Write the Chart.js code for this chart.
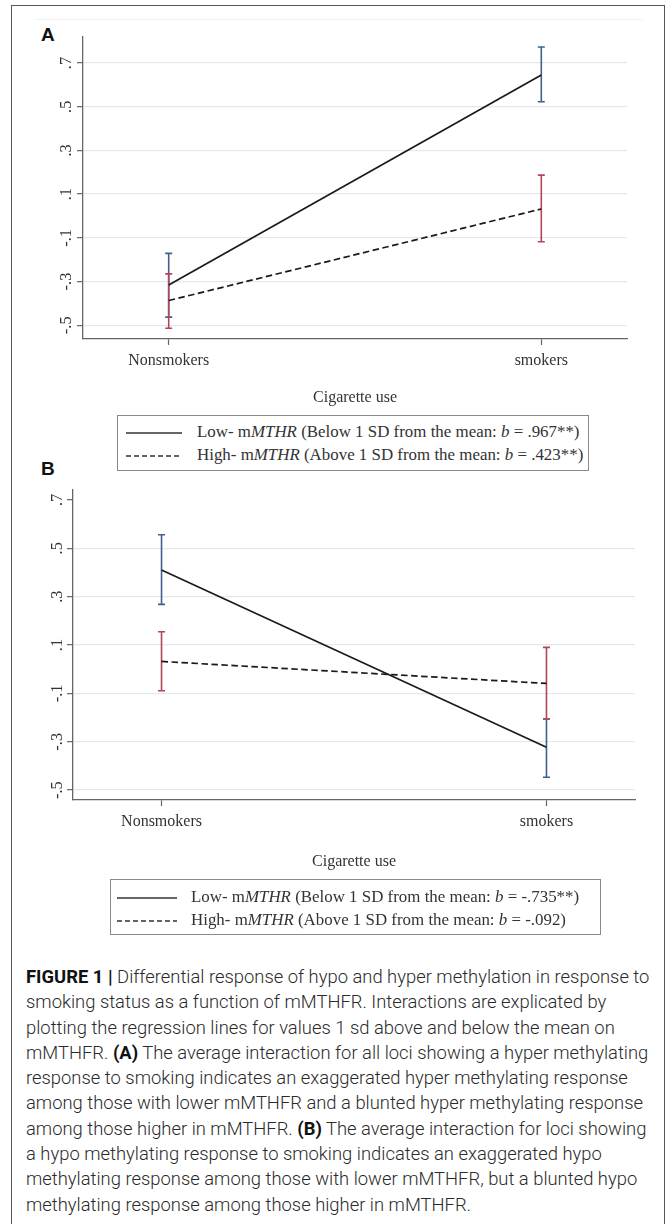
<!DOCTYPE html>
<html>
<head>
<meta charset="utf-8">
<script src="https://cdn.jsdelivr.net/npm/chart.js@4.4.1/dist/chart.umd.min.js"></script>
<style>
  body { margin: 0; background: #fff; width: 667px; height: 1224px; overflow: hidden; position: relative; }
  .frame { position: absolute; left: 11px; top: 5px; width: 652px; height: 1240px; border: 1.5px solid #555; }
  .topline { position: absolute; left: 36px; top: 19px; width: 607px; height: 1px; background: #f0f0f0; }
  .panel { position: absolute; left: 41px; font: bold 19px "Liberation Sans", Arial, sans-serif; line-height: 1; color: #111; }
  canvas { position: absolute; left: 0; }
  .legend { position: absolute; border: 1px solid #8a8a8a; font: 16.9px "Liberation Serif", "Times New Roman", serif; color: #333; }
  .legend .row { position: absolute; white-space: nowrap; line-height: 20px; }
  .legend svg { position: absolute; }
  .caption { position: absolute; left: 26px; top: 964px; font: 300 18.4px Roboto, "Liberation Sans", sans-serif; line-height: 25.3px; color: #2a2a2a; white-space: nowrap; }
  .caption b { font-weight: bold; color: #111; }
</style>
</head>
<body>
<div class="frame"></div>
<div class="topline"></div>

<div class="panel" style="top:25px">A</div>
<canvas id="chartA" width="667" height="410" style="top:0"></canvas>
<div class="legend" style="left:117px; top:415px; width:470px; height:54px">
  <svg style="left:8px; top:15px" width="58" height="4"><line x1="0" y1="2" x2="56" y2="2" stroke="#333" stroke-width="1.6"/></svg>
  <div class="row" style="left:79px; top:6px">Low- m<i>MTHR</i> (Below 1 SD from the mean: <i>b</i> = .967**)</div>
  <svg style="left:8px; top:38px" width="58" height="4"><line x1="0" y1="2" x2="56" y2="2" stroke="#333" stroke-width="1.6" stroke-dasharray="5,3"/></svg>
  <div class="row" style="left:79px; top:29px">High- m<i>MTHR</i> (Above 1 SD from the mean: <i>b</i> = .423**)</div>
</div>

<div class="panel" style="top:459px">B</div>
<canvas id="chartB" width="667" height="420" style="top:460px"></canvas>
<div class="legend" style="left:110px; top:879px; width:489px; height:54px">
  <svg style="left:6px; top:16px" width="62" height="4"><line x1="0" y1="2" x2="60" y2="2" stroke="#333" stroke-width="1.6"/></svg>
  <div class="row" style="left:80px; top:7px">Low- m<i>MTHR</i> (Below 1 SD from the mean: <i>b</i> = -.735**)</div>
  <svg style="left:6px; top:39px" width="62" height="4"><line x1="0" y1="2" x2="60" y2="2" stroke="#333" stroke-width="1.6" stroke-dasharray="5,3"/></svg>
  <div class="row" style="left:80px; top:30px">High- m<i>MTHR</i> (Above 1 SD from the mean: <i>b</i> = -.092)</div>
</div>

<div class="caption">
<b>FIGURE 1 |</b> Differential response of hypo and hyper methylation in response to<br>
smoking status as a function of mMTHFR. Interactions are explicated by<br>
plotting the regression lines for values 1 sd above and below the mean on<br>
mMTHFR. <b>(A)</b> The average interaction for all loci showing a hyper methylating<br>
response to smoking indicates an exaggerated hyper methylating response<br>
among those with lower mMTHFR and a blunted hyper methylating response<br>
among those higher in mMTHFR. <b>(B)</b> The average interaction for loci showing<br>
a hypo methylating response to smoking indicates an exaggerated hypo<br>
methylating response among those with lower mMTHFR, but a blunted hypo<br>
methylating response among those higher in mMTHFR.
</div>

<script>
// categorie e tick
var categories = ['Nonsmokers', 'smokers'];
var yTicks = [-0.5, -0.3, -0.1, 0.1, 0.3, 0.5, 0.7];
var yTickLabels = ['-.5', '-.3', '-.1', '.1', '.3', '.5', '.7'];

// pannello A (ipermetilazione)
var aLow = [-0.316, 0.645];
var aLowLo = [-0.463, 0.523];
var aLowHi = [-0.171, 0.773];
var aHigh = [-0.387, 0.032];
var aHighLo = [-0.514, -0.118];
var aHighHi = [-0.265, 0.187];

// pannello B (ipometilazione)
var bLow = [0.410, -0.323];
var bLowLo = [0.268, -0.447];
var bLowHi = [0.556, -0.206];
var bHigh = [0.032, -0.059];
var bHighLo = [-0.089, -0.206];
var bHighHi = [0.155, 0.090];

var BLUE = '#40608e';
var RED = '#b24659';
var SERIF = "'Liberation Serif', 'Times New Roman', serif";

// barre di errore disegnate con le scale del grafico
var errorBars = {
    id: 'errorBars',
    beforeDatasetsDraw: function(chart) {
        var ctx = chart.ctx;
        var x = chart.scales.x, y = chart.scales.y;
        chart.data.datasets.forEach(function(ds) {
            ctx.save();
            ctx.strokeStyle = ds.errColor;
            ctx.lineWidth = 1.6;
            ds.errLo.forEach(function(lo, i) {
                var px = x.getPixelForValue(i);
                var y1 = y.getPixelForValue(lo);
                var y2 = y.getPixelForValue(ds.errHi[i]);
                ctx.beginPath();
                ctx.moveTo(px, y1); ctx.lineTo(px, y2);
                ctx.moveTo(px - 3.5, y1); ctx.lineTo(px + 3.5, y1);
                ctx.moveTo(px - 3.5, y2); ctx.lineTo(px + 3.5, y2);
                ctx.stroke();
            });
            ctx.restore();
        });
    }
};

function toPoints(arr) {
    return arr.map(function(v, i) { return { x: i, y: v }; });
}

function makeChart(id, low, lowLo, lowHi, high, highLo, highHi, cfg) {
    return new Chart(document.getElementById(id), {
        type: 'line',
        data: {
            datasets: [{
                data: toPoints(low),
                borderColor: '#1a1a1a',
                borderWidth: 1.7,
                pointRadius: 0,
                errLo: lowLo, errHi: lowHi, errColor: BLUE
            }, {
                data: toPoints(high),
                borderColor: '#1a1a1a',
                borderWidth: 1.7,
                borderDash: [6.5, 3.5],
                pointRadius: 0,
                errLo: highLo, errHi: highHi, errColor: RED
            }]
        },
        options: {
            responsive: false,
            animation: false,
            devicePixelRatio: 1,
            layout: { padding: { left: cfg.padLeft, right: cfg.padRight, top: cfg.padTop, bottom: 0 } },
            plugins: { legend: { display: false }, tooltip: { enabled: false } },
            scales: {
                x: {
                    type: 'linear',
                    min: -0.23, max: 1.23,
                    afterBuildTicks: function(s) { s.ticks = categories.map(function(c, i) { return { value: i }; }); },
                    afterFit: function(s) { s.height = cfg.xHeight; },
                    ticks: {
                        callback: function(v) { return categories[v]; },
                        font: { family: SERIF, size: 16 },
                        color: '#333',
                        padding: 6,
                        maxRotation: 0
                    },
                    grid: { drawOnChartArea: false, tickLength: 6, tickColor: '#666', tickWidth: 1.2 },
                    border: { color: '#666', width: 1.3 },
                    title: {
                        display: true,
                        text: 'Cigarette use',
                        font: { family: SERIF, size: 16 },
                        color: '#333',
                        padding: { top: 0, bottom: cfg.titlePad }
                    }
                },
                y: {
                    min: cfg.yMin, max: cfg.yMax,
                    afterBuildTicks: function(s) { s.ticks = yTicks.map(function(v) { return { value: v }; }); },
                    afterFit: function(s) { s.width = 50; },
                    ticks: {
                        callback: function(v) { return yTickLabels[yTicks.indexOf(v)]; },
                        font: { family: SERIF, size: 16.5 },
                        color: '#333',
                        minRotation: 90, maxRotation: 90,
                        crossAlign: 'center',
                        padding: cfg.yPad
                    },
                    grid: {
                        color: function(c) {
                            if (c.tick && cfg.skipGrid.indexOf(c.tick.value) >= 0) return 'rgba(0,0,0,0)';
                            return '#e2e9ed';
                        },
                        lineWidth: 1.3,
                        tickLength: 6, tickColor: '#666', tickWidth: 1.2
                    },
                    border: { color: '#666', width: 1.3 }
                }
            }
        },
        plugins: [errorBars]
    });
}

makeChart('chartA', aLow, aLowLo, aLowHi, aHigh, aHighLo, aHighHi, {
    padLeft: 33, padRight: 40, padTop: 37, xHeight: 71, titlePad: 3,
    yMin: -0.563, yMax: 0.819, yPad: 1.5, skipGrid: []
});
makeChart('chartB', bLow, bLowLo, bLowHi, bHigh, bHighLo, bHighHi, {
    padLeft: 23, padRight: 32, padTop: 30, xHeight: 80, titlePad: 9,
    yMin: -0.541, yMax: 0.741, yPad: 0, skipGrid: [0.7]
});
</script>
</body>
</html>
